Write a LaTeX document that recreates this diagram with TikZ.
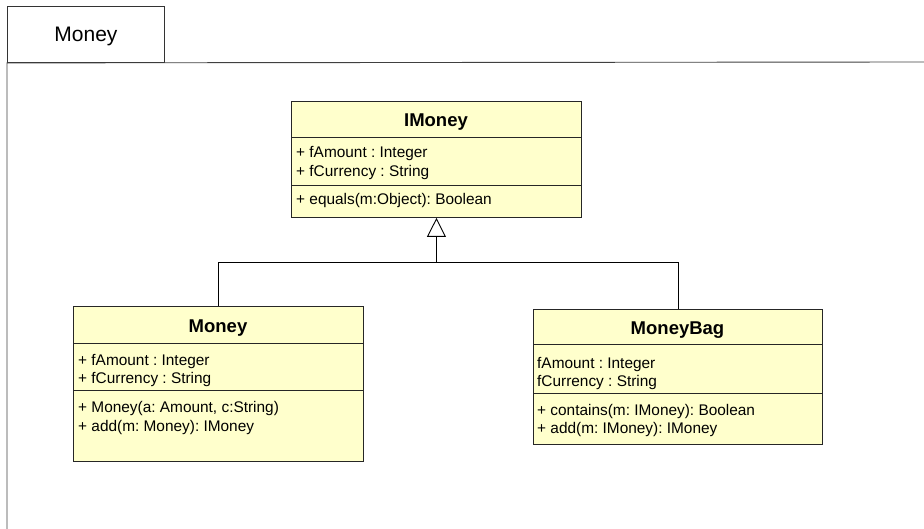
\documentclass[tikz,border=0pt]{standalone}
\usepackage{fontspec}
\setmainfont{Liberation Sans}
\usetikzlibrary{arrows.meta}

\definecolor{umlyellow}{HTML}{FFFFCC}

\tikzset{
  classbox/.style={draw=black!85, fill=umlyellow, line width=0.9pt, inner sep=0pt, anchor=north west},
  classname/.style={font=\fontsize{18.5}{22}\selectfont\bfseries, inner sep=0pt, text depth=0pt},
  member/.style={font=\fontsize{15.4}{19}\selectfont, inner sep=0pt, anchor=base west},
}

\begin{document}
\frenchspacing
\begin{tikzpicture}[x=1pt,y=-1pt]
\useasboundingbox (0,0) rectangle (924,529);

% package frame
\node[draw=black!80, line width=0.9pt, minimum width=157pt, minimum height=56pt, anchor=north west, inner sep=0pt, text depth=0pt, font=\fontsize{21}{25}\selectfont] (pkgtab) at (7,6) {Money};
\draw[black!75, line width=0.9pt] (7,529) -- (pkgtab.south west) -- (924,62);

% IMoney
\node[classbox, minimum width=290pt, minimum height=116pt] (imoney) at (291,101) {};
\node[classname] (imoney-name) at (436,120) {IMoney};
\draw[black!85, line width=0.9pt] ([yshift=-36pt]imoney.north west) -- ([yshift=-36pt]imoney.north east);
\draw[black!85, line width=0.9pt] ([yshift=-84pt]imoney.north west) -- ([yshift=-84pt]imoney.north east);
\node[member] (imoney-a1) at (296,158) {+ fAmount : Integer};
\node[member] (imoney-a2) at (296,177) {+ fCurrency : String};
\node[member] (imoney-o1) at (296,205) {+ equals(m:Object): Boolean};

% Money
\node[classbox, minimum width=290pt, minimum height=155pt] (money) at (73,306) {};
\node[classname] (money-name) at (218,326) {Money};
\draw[black!85, line width=0.9pt] ([yshift=-37pt]money.north west) -- ([yshift=-37pt]money.north east);
\draw[black!85, line width=0.9pt] ([yshift=-84pt]money.north west) -- ([yshift=-84pt]money.north east);
\node[member] (money-a1) at (78,366) {+ fAmount : Integer};
\node[member] (money-a2) at (78,384) {+ fCurrency : String};
\node[member] (money-o1) at (78,412) {+ Money(a: Amount, c:String)};
\node[member] (money-o2) at (78,431) {+ add(m: Money): IMoney};

% MoneyBag
\node[classbox, minimum width=289pt, minimum height=135pt] (moneybag) at (533,309) {};
\node[classname] (moneybag-name) at (677.5,328) {MoneyBag};
\draw[black!85, line width=0.9pt] ([yshift=-35pt]moneybag.north west) -- ([yshift=-35pt]moneybag.north east);
\draw[black!85, line width=0.9pt] ([yshift=-84pt]moneybag.north west) -- ([yshift=-84pt]moneybag.north east);
\node[member] (moneybag-a1) at (537,368) {fAmount : Integer};
\node[member] (moneybag-a2) at (537,386) {fCurrency : String};
\node[member] (moneybag-o1) at (537,415) {+ contains(m: IMoney): Boolean};
\node[member] (moneybag-o2) at (537,433) {+ add(m: IMoney): IMoney};

% generalization
\coordinate (bus) at (imoney.south |- 0,262);
\draw[line width=0.9pt] (money.north) |- (moneybag.north |- bus) -- (moneybag.north);
\draw[line width=0.9pt, -{Triangle[open, length=19pt, width=19pt]}] (bus) -- (imoney.south);

\end{tikzpicture}
\end{document}
